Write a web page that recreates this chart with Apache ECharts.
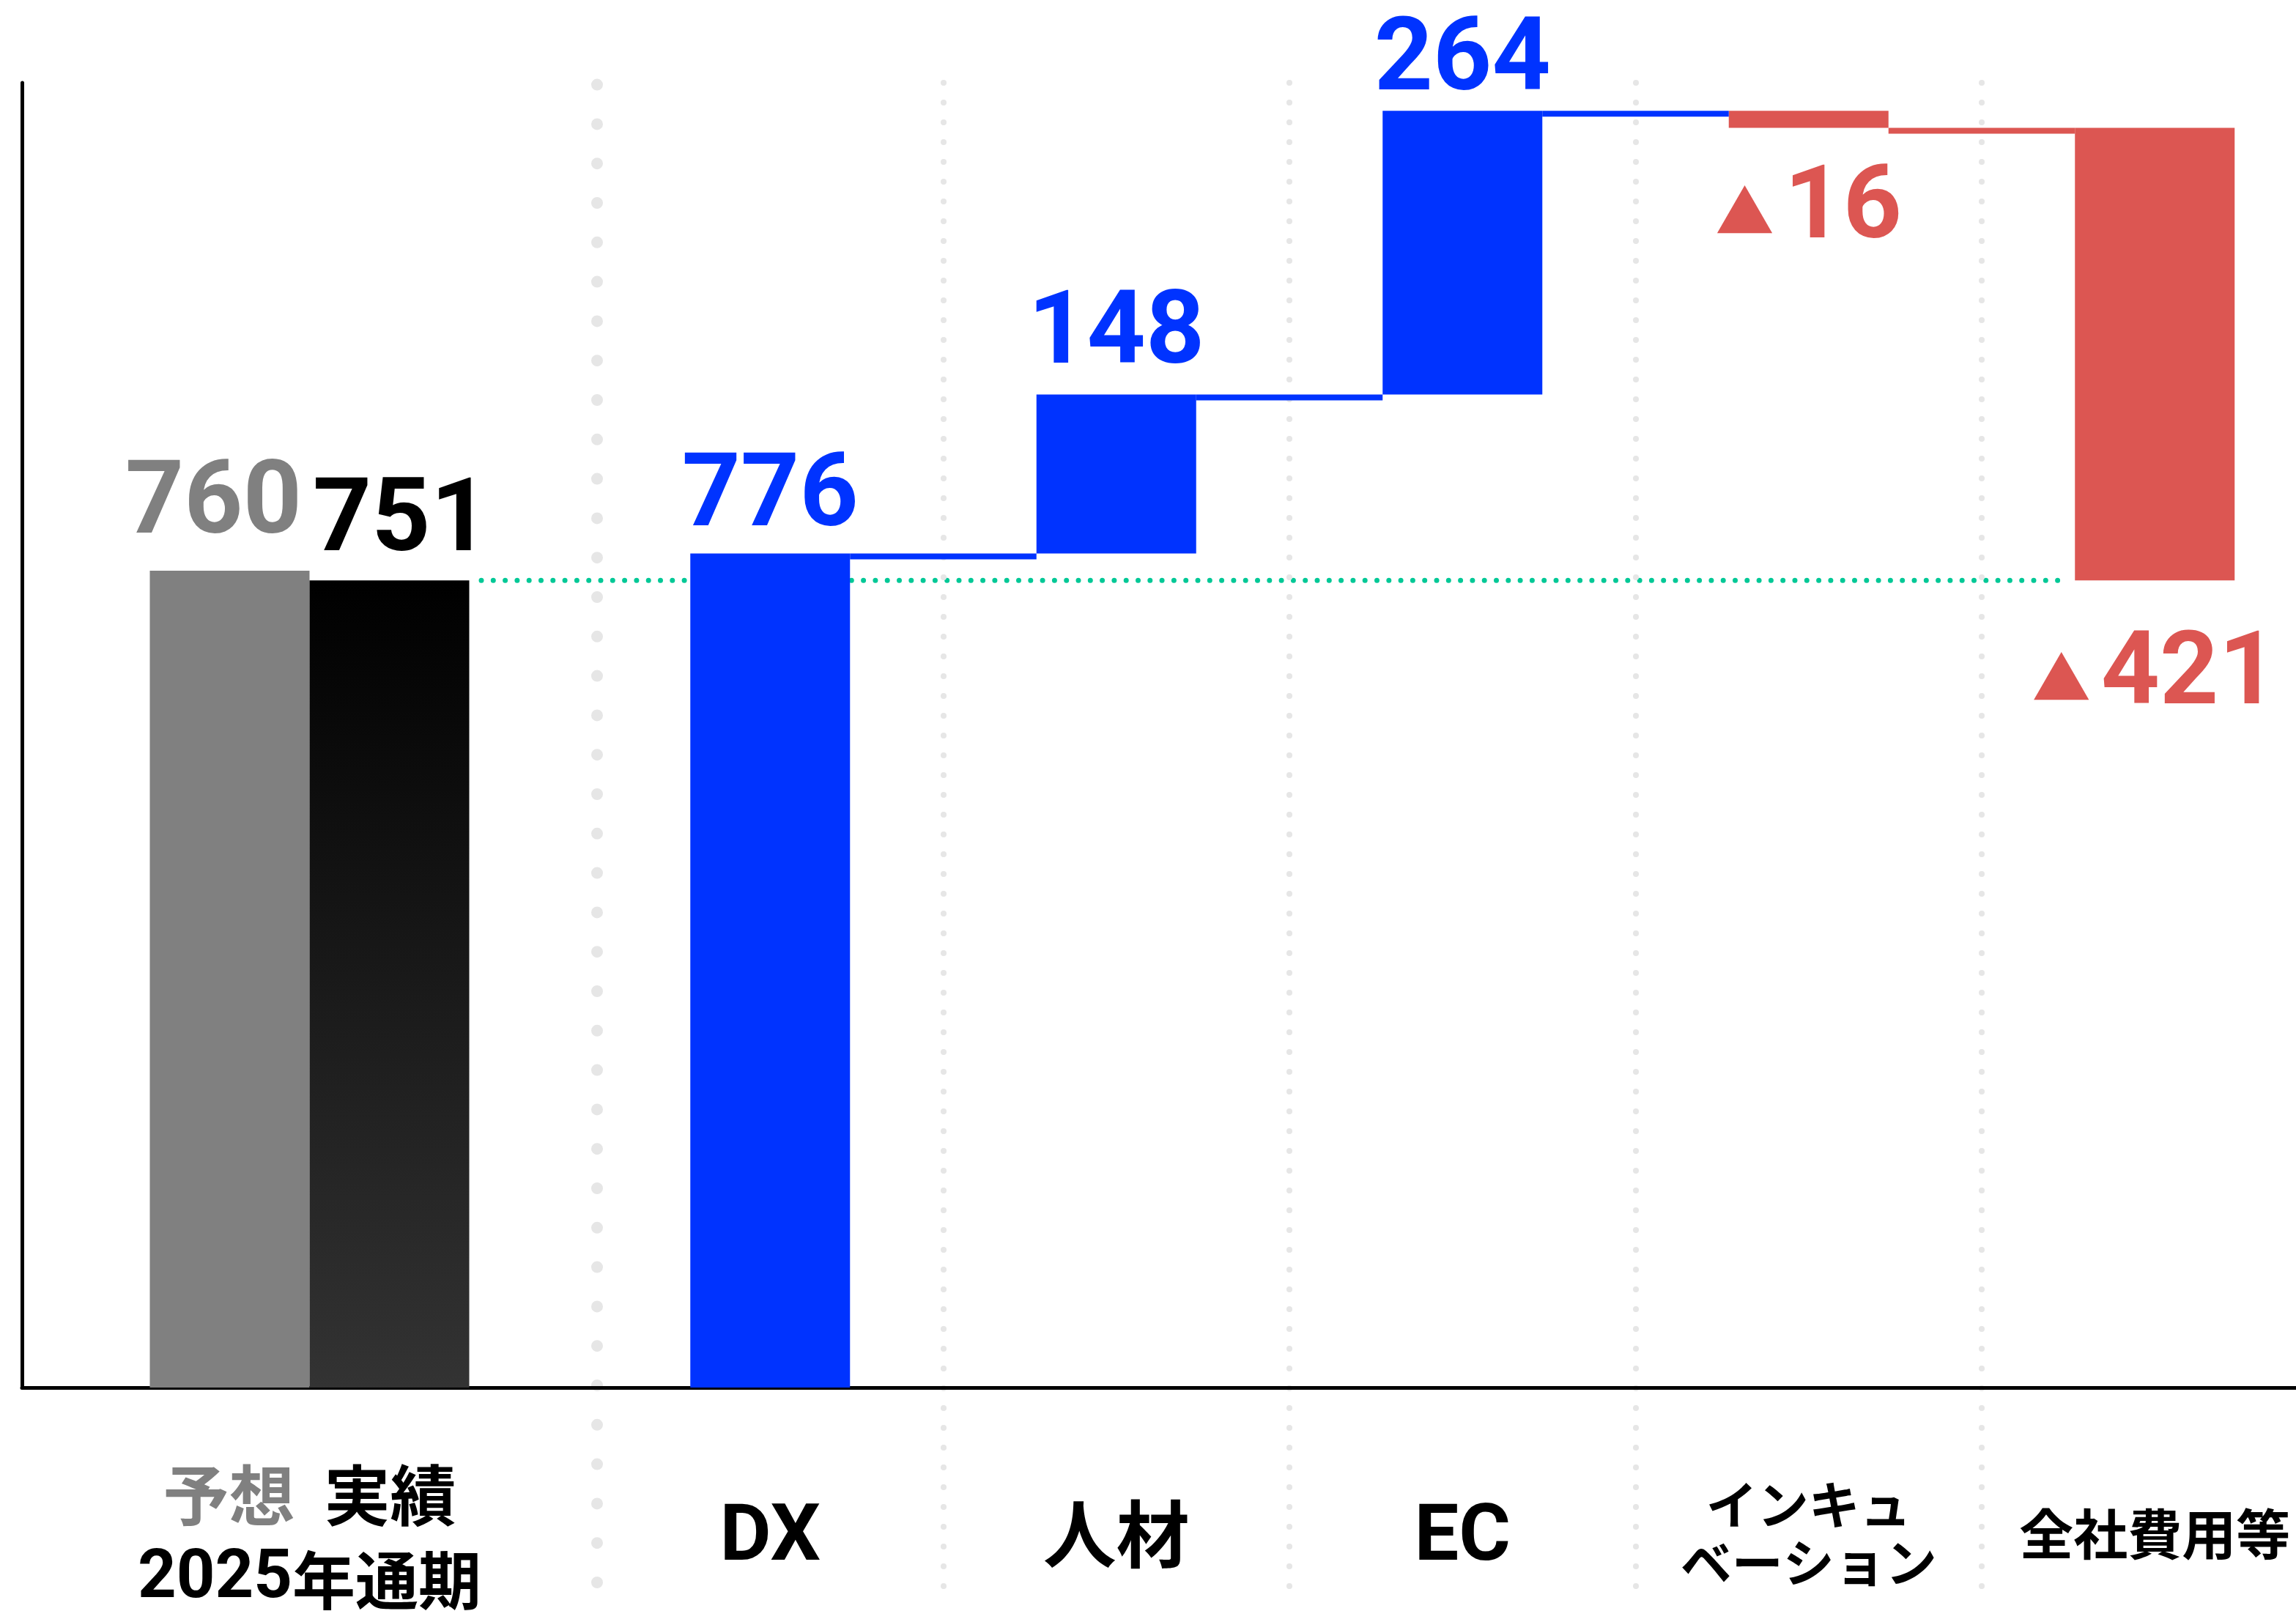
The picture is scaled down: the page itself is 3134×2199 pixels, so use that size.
<!DOCTYPE html>
<html>
<head>
<meta charset="utf-8">
<script src="https://cdn.jsdelivr.net/npm/echarts@6/dist/echarts.min.js"></script>
<style>
  html, body { margin: 0; padding: 0; background: #fff; }
  #chart { width: 3134px; height: 2199px; }
</style>
</head>
<body>
<div id="chart"></div>
<script>
// data
const groupName = '2025年通期';
const groupSeries = ['予想', '実績'];
const groupValues = [760, 751];
const stepCats = ['DX', '人材', 'EC', 'インキュ\nベーション', '全社費用等'];
const stepDeltas = [776, 148, 264, -16, -421];

const BLUE = '#0033ff';
const RED = '#dc5652';
const GRAY = '#808080';
const DOT = '#e6e6e6';
const GREEN = '#00c896';
const NUM = 'Roboto, "Liberation Sans", sans-serif';
const JP = '"Noto Sans CJK JP", sans-serif';

// layout
const Y_MAX = 1214;
const TOP = 113, BASE = 1894, LOW = 2190;
const k = (BASE - TOP) / Y_MAX;
const Y_MIN2 = Y_MAX - (LOW - TOP) / k;
const BAR_W = 218;
const labelGap = [4, 8, -6, 44, 63];

// running totals for the waterfall
let run = 0;
const bases = [], tops = [];
stepDeltas.forEach(d => {
  const next = run + d;
  bases.push(Math.min(run, next));
  tops.push(next);
  run = next;
});
const actual = groupValues[1];

const numLabel = (color, extra) => Object.assign({
  show: true, position: 'top', distance: 6, color,
  fontFamily: NUM, fontWeight: 'bold', fontSize: 140
}, extra);

const chart = echarts.init(document.getElementById('chart'));
chart.setOption({
  animation: false,
  backgroundColor: '#fff',
  grid: [
    { left: 30, top: TOP, width: 785, height: BASE - TOP, outerBoundsMode: 'none' },
    { left: 815, top: TOP, width: 472.5 * stepCats.length, height: LOW - TOP, outerBoundsMode: 'none' },
    { left: 657, top: TOP, width: 2820 - 657, height: BASE - TOP, outerBoundsMode: 'none' }
  ],
  xAxis: [
    {
      gridIndex: 0, type: 'category', data: [groupName], z: 2,
      axisLine: { lineStyle: { color: '#000', width: 5 } },
      axisTick: { show: false },
      axisLabel: {
        margin: 205, verticalAlign: 'middle',
        formatter: v => {
          const num = v.match(/^\d+/)[0];
          return `{g|${groupSeries[0]}}{k|${groupSeries[1]}}\n{n|${num}}{j|${v.slice(num.length)}}`;
        },
        rich: {
          g: { color: GRAY, fontFamily: JP, fontWeight: 'bold', fontSize: 90, lineHeight: 116, padding: [0, 40, 0, 0] },
          k: { color: '#000', fontFamily: JP, fontWeight: 'bold', fontSize: 90, lineHeight: 116 },
          n: { color: '#000', fontFamily: NUM, fontWeight: 'bold', fontSize: 92, lineHeight: 116 },
          j: { color: '#000', fontFamily: JP, fontWeight: 'bold', fontSize: 86, lineHeight: 116 }
        }
      }
    },
    {
      gridIndex: 1, type: 'category', data: stepCats, z: 2,
      axisLine: { onZero: true, lineStyle: { color: '#000', width: 5 } },
      axisTick: { show: false },
      splitLine: {
        show: true, interval: i => i > 0,
        lineStyle: { color: DOT, width: 8, type: [0, 27], cap: 'round' }
      },
      axisLabel: {
        interval: 0, margin: BASE + 200 - LOW, verticalAlign: 'middle',
        formatter: v => {
          const s = /^[A-Za-z]+$/.test(v) ? 'en' : v.includes('\n') ? 'sm' : v.length > 3 ? 'md' : 'jp';
          return v.split('\n').map(t => `{${s}|${t}}`).join('\n');
        },
        rich: {
          en: { color: '#000', fontFamily: NUM, fontWeight: 'bold', fontSize: 108, padding: [16, 0, 0, 0] },
          jp: { color: '#000', fontFamily: JP, fontWeight: 'bold', fontSize: 100 },
          md: { color: '#000', fontFamily: JP, fontWeight: 'bold', fontSize: 74 },
          sm: { color: '#000', fontFamily: JP, fontWeight: 'bold', fontSize: 70, lineHeight: 79 }
        }
      }
    },
    { gridIndex: 2, type: 'value', min: 0, max: 1, show: false }
  ],
  yAxis: [
    {
      gridIndex: 0, type: 'value', min: 0, max: Y_MAX, z: 2,
      axisLine: { show: true, lineStyle: { color: '#000', width: 5 } },
      axisTick: { show: false }, axisLabel: { show: false }, splitLine: { show: false }
    },
    {
      gridIndex: 1, type: 'value', min: Y_MIN2, max: Y_MAX, z: 0,
      axisLine: {
        show: true,
        lineStyle: { color: DOT, width: 16, type: [0, 53.8], dashOffset: 23.8, cap: 'round' }
      },
      axisTick: { show: false }, axisLabel: { show: false }, splitLine: { show: false }
    },
    { gridIndex: 2, type: 'value', min: 0, max: Y_MAX, show: false }
  ],
  series: [
    {
      name: groupSeries[0], type: 'bar', xAxisIndex: 0, yAxisIndex: 0,
      barWidth: BAR_W, barGap: 0,
      data: [groupValues[0]],
      itemStyle: { color: GRAY },
      label: numLabel(GRAY, { distance: 17, offset: [-22, 0] })
    },
    {
      name: groupSeries[1], type: 'bar', xAxisIndex: 0, yAxisIndex: 0,
      barWidth: BAR_W, barGap: 0,
      data: [groupValues[1]],
      itemStyle: {
        color: new echarts.graphic.LinearGradient(0, 0, 0, 1, [
          { offset: 0, color: '#000' }, { offset: 1, color: '#333' }
        ])
      },
      label: numLabel('#000', { offset: [16, 0] })
    },
    {
      type: 'bar', xAxisIndex: 1, yAxisIndex: 1, stack: 'w', barWidth: BAR_W,
      data: bases, itemStyle: { color: 'transparent' }, silent: true
    },
    {
      type: 'bar', xAxisIndex: 1, yAxisIndex: 1, stack: 'w', barWidth: BAR_W,
      data: stepDeltas.map((d, i) => ({
        value: Math.abs(d),
        itemStyle: { color: d >= 0 ? BLUE : RED },
        label: { position: d >= 0 ? 'top' : 'bottom', distance: labelGap[i] }
      })),
      label: {
        show: true,
        formatter: p => {
          const d = stepDeltas[p.dataIndex];
          return d >= 0 ? `{b|${d}}` : `{t|▲}{r|${-d}}`;
        },
        rich: {
          b: { color: BLUE, fontFamily: NUM, fontWeight: 'bold', fontSize: 140 },
          r: { color: RED, fontFamily: NUM, fontWeight: 'bold', fontSize: 140 },
          t: { color: RED, fontFamily: JP, fontSize: 80, padding: [0, 14, 0, 0], verticalAlign: 'middle' }
        }
      }
    },
    {
      type: 'custom', xAxisIndex: 1, yAxisIndex: 1, z: 3,
      renderItem: (params, api) => {
        const p = api.coord([api.value(0), api.value(1)]);
        const band = api.size([1, 0])[0];
        const x0 = p[0] + BAR_W / 2;
        const x1 = p[0] + band - BAR_W / 2;
        return {
          type: 'rect',
          shape: { x: x0, y: p[1], width: x1 - x0, height: 8 },
          style: { fill: api.visual('color') }
        };
      },
      data: tops.slice(0, -1).map((t, i) => ({
        value: [i, t],
        itemStyle: { color: stepDeltas[i] >= 0 ? BLUE : RED }
      }))
    },
    {
      type: 'line', xAxisIndex: 2, yAxisIndex: 2, z: 1, symbol: 'none',
      data: [[0, actual], [1, actual]],
      lineStyle: { color: GREEN, width: 7, type: [0, 16.3], cap: 'round' }
    }
  ]
});
</script>
</body>
</html>
